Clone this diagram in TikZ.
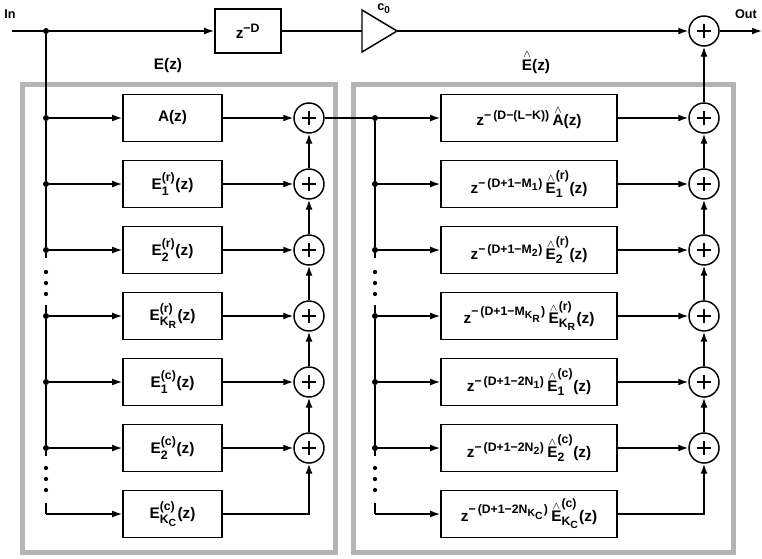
\documentclass[tikz,border=0pt]{standalone}
\usepackage{amsmath}
\usepackage{fontspec}
\setmainfont{Liberation Sans}
\usepackage{xcolor}
\definecolor{frameGray}{HTML}{B4B4B4}
\usetikzlibrary{
    arrows.meta,
    calc
}
\DeclareMathSizes{11.5}{11.5}{9.2}{7.8}
\DeclareMathSizes{9.5}{9.5}{7.5}{6}
\newcommand{\tx}[1]{\text{#1}}
% letter with a thin caret above it
\newcommand{\hatted}[1]{\text{\setbox0\hbox{#1}\rlap{\hbox to\wd0{\hss\raisebox{\dimexpr\ht0+1.2pt\relax}{\fontsize{8.5}{8.5}\selectfont$\wedge$}\hss}}\box0}}
\newcommand{\Ehat}{\hatted{E}}
\tikzset{
    % Base style for block texts
    label base/.style={
        font=\bfseries\fontsize{11.5}{13}\selectfont,
        inner sep=0pt,
    },
    % Filter blocks inside E(z)
    left block/.style={
        label base,
        draw,
        line width=1.3pt,
        minimum width=74.25pt,
        minimum height=35.25pt,
    },
    % Delayed filter blocks inside E-hat(z)
    right block/.style={
        left block,
        minimum width=132pt,
    },
    % Summing junction with a thin cross
    adder/.style={
        circle,
        draw,
        line width=1.1pt,
        minimum size=22.5pt,
        inner sep=0pt,
        path picture={
            \draw [line width=0.8pt]
                ($(path picture bounding box.center)+(-5.6pt,0)$) -- +(11.2pt,0)
                ($(path picture bounding box.center)+(0,-5.6pt)$) -- +(0,11.2pt);
        },
    },
    % Branch point
    dot/.style={
        circle,
        fill,
        inner sep=0pt,
        minimum size=4.5pt,
    },
    % Plain signal line and signal arrow
    line/.style={
        line width=1.1pt,
    },
    arrow/.style={
        line,
        -{Latex[length=7.5pt, width=5.25pt]},
    },
    % Vertical ellipsis on a bus
    ellipsis/.style={
        line width=3.2pt,
        line cap=round,
        dash pattern=on 0pt off 8.25pt,
    },
    % Grey frame round a filter bank
    frame/.style={
        draw=frameGray,
        line width=3.75pt,
    },
    % In / Out labels
    io label/.style={
        font=\bfseries\fontsize{9.5}{11}\selectfont,
        inner sep=0pt,
    },
}

\begin{document}
\begin{tikzpicture}[x=0.75pt, y=-0.75pt, node distance=49.5pt]
    \useasboundingbox (0,0) rectangle (762,558);

    % frames first, so that the signal lines lie on top
    \draw [frame] (22,84) rectangle (335.5,552);
    \draw [frame] (353.5,84) rectangle (733,552);
    \node (elabel) [label base] at (168,66) {E(z)};
    \node (ehlabel) [label base, anchor=base] at (536,70) {$\Ehat$(z)};

    % top path
    \node (inlabel) [io label, anchor=west] at (4,14) {In};
    \coordinate (in) at (12,31);
    \node (jin) [dot] at (46,31) {};
    \node (delay) [label base, draw, line width=1.3pt, minimum width=49.5pt, minimum height=33pt] at (248,31) {$\tx{z}^{\tx{−D}}$};
    % gain triangle
    \coordinate (gainin) at (362,31);
    \coordinate (gainout) at (397,31);
    \draw [line] (362,10) -- (gainout) -- (362,52) -- cycle;
    \node (gainlabel) [io label] at (384,9) {$\tx{c}_{\tx{0}}$};
    \node (sout) [adder] at (704,31) {};
    \node (outlabel) [io label] at (746,14) {Out};
    \coordinate (out) at (762,31);

    % E(z): bus, blocks and adders
    \node (ja) [dot] at (46,118) {};
    \node (j1r) [dot, below of=ja] {};
    \node (j2r) [dot, below of=j1r] {};
    \node (jkr) [dot, below of=j2r] {};
    \node (j1c) [dot, below of=jkr] {};
    \node (j2c) [dot, below of=j1c] {};
    \coordinate (jkc) at (46,514);

    \node (la) [left block] at (172.5,118) {A(z)};
    \node (l1r) [left block, below of=la] {$\tx{E}^{\tx{(r)}}_{\tx{1}}\tx{(z)}$};
    \node (l2r) [left block, below of=l1r] {$\tx{E}^{\tx{(r)}}_{\tx{2}}\tx{(z)}$};
    \node (lkr) [left block, below of=l2r] {$\tx{E}^{\tx{(r)}}_{\tx{K}_{\tx{R}}}\tx{(z)}$};
    \node (l1c) [left block, below of=lkr] {$\tx{E}^{\tx{(c)}}_{\tx{1}}\tx{(z)}$};
    \node (l2c) [left block, below of=l1c] {$\tx{E}^{\tx{(c)}}_{\tx{2}}\tx{(z)}$};
    \node (lkc) [left block, below of=l2c] {$\tx{E}^{\tx{(c)}}_{\tx{K}_{\tx{C}}}\tx{(z)}$};

    \node (sa) [adder] at (309,118) {};
    \node (s1r) [adder, below of=sa] {};
    \node (s2r) [adder, below of=s1r] {};
    \node (skr) [adder, below of=s2r] {};
    \node (s1c) [adder, below of=skr] {};
    \node (s2c) [adder, below of=s1c] {};

    % E-hat(z): bus, blocks and adders
    \node (rja) [dot] at (375,118) {};
    \node (rj1r) [dot, below of=rja] {};
    \node (rj2r) [dot, below of=rj1r] {};
    \node (rjkr) [dot, below of=rj2r] {};
    \node (rj1c) [dot, below of=rjkr] {};
    \node (rj2c) [dot, below of=rj1c] {};
    \coordinate (rjkc) at (375,514);

    \node (ra) [right block] at (529,118) {$\tx{z}^{\tx{−\,(D−(L−K))}}\,\hatted{A}\tx{(z)}$};
    \node (r1r) [right block, below of=ra] {$\tx{z}^{\tx{−\,(D+1−M}_{\tx{1}}\tx{)}}\,\Ehat^{\tx{(r)}}_{\tx{1}}\tx{(z)}$};
    \node (r2r) [right block, below of=r1r] {$\tx{z}^{\tx{−\,(D+1−M}_{\tx{2}}\tx{)}}\,\Ehat^{\tx{(r)}}_{\tx{2}}\tx{(z)}$};
    \node (rkr) [right block, below of=r2r] {$\tx{z}^{\tx{−\,(D+1−M}_{\tx{K}_{\tx{R}}}\tx{)}}\,\Ehat^{\tx{(r)}}_{\tx{K}_{\tx{R}}}\tx{(z)}$};
    \node (r1c) [right block, below of=rkr] {$\tx{z}^{\tx{−\,(D+1−2N}_{\tx{1}}\tx{)}}\,\Ehat^{\tx{(c)}}_{\tx{1}}\tx{(z)}$};
    \node (r2c) [right block, below of=r1c] {$\tx{z}^{\tx{−\,(D+1−2N}_{\tx{2}}\tx{)}}\,\Ehat^{\tx{(c)}}_{\tx{2}}\tx{(z)}$};
    \node (rkc) [right block, below of=r2c] {$\tx{z}^{\tx{−\,(D+1−2N}_{\tx{K}_{\tx{C}}}\tx{)}}\,\Ehat^{\tx{(c)}}_{\tx{K}_{\tx{C}}}\tx{(z)}$};

    \node (ta) [adder] at (704,118) {};
    \node (t1r) [adder, below of=ta] {};
    \node (t2r) [adder, below of=t1r] {};
    \node (tkr) [adder, below of=t2r] {};
    \node (t1c) [adder, below of=tkr] {};
    \node (t2c) [adder, below of=t1c] {};

    % gaps in the buses
    \coordinate (gl1) at (46,258);
    \coordinate (gl2) at (46,305);
    \coordinate (gl3) at (46,456);
    \coordinate (gl4) at (46,503);
    \coordinate (gr1) at (375,258);
    \coordinate (gr2) at (375,305);
    \coordinate (gr3) at (375,456);
    \coordinate (gr4) at (375,503);
    \draw [ellipsis] (46,272) -- (46,295);
    \draw [ellipsis] (46,468) -- (46,491);
    \draw [ellipsis] (375,272) -- (375,295);
    \draw [ellipsis] (375,468) -- (375,491);

    % top path
    \draw [line] (in) -- (jin);
    \draw [arrow] (jin) -- (delay);
    \draw [line] (delay) -- (gainin);
    \draw [arrow] (gainout) -- (sout);
    \draw [arrow] (sout) -- (out);

    % left bus
    \draw [line] (jin) -- (ja) -- (j1r) -- (j2r) -- (gl1);
    \draw [line] (gl2) -- (jkr) -- (j1c) -- (j2c) -- (gl3);
    \draw [line] (gl4) -- (jkc);

    \draw [arrow] (ja) -- (la);
    \draw [arrow] (j1r) -- (l1r);
    \draw [arrow] (j2r) -- (l2r);
    \draw [arrow] (jkr) -- (lkr);
    \draw [arrow] (j1c) -- (l1c);
    \draw [arrow] (j2c) -- (l2c);
    \draw [arrow] (jkc) -- (lkc);

    \draw [arrow] (la) -- (sa);
    \draw [arrow] (l1r) -- (s1r);
    \draw [arrow] (l2r) -- (s2r);
    \draw [arrow] (lkr) -- (skr);
    \draw [arrow] (l1c) -- (s1c);
    \draw [arrow] (l2c) -- (s2c);
    \draw [arrow] (lkc) -| (s2c);

    \draw [arrow] (s1r) -- (sa);
    \draw [arrow] (s2r) -- (s1r);
    \draw [arrow] (skr) -- (s2r);
    \draw [arrow] (s1c) -- (skr);
    \draw [arrow] (s2c) -- (s1c);

    % E(z) output into the E-hat(z) bus
    \draw [line] (sa) -- (rja);

    % right bus
    \draw [line] (rja) -- (rj1r) -- (rj2r) -- (gr1);
    \draw [line] (gr2) -- (rjkr) -- (rj1c) -- (rj2c) -- (gr3);
    \draw [line] (gr4) -- (rjkc);

    \draw [arrow] (rja) -- (ra);
    \draw [arrow] (rj1r) -- (r1r);
    \draw [arrow] (rj2r) -- (r2r);
    \draw [arrow] (rjkr) -- (rkr);
    \draw [arrow] (rj1c) -- (r1c);
    \draw [arrow] (rj2c) -- (r2c);
    \draw [arrow] (rjkc) -- (rkc);

    \draw [arrow] (ra) -- (ta);
    \draw [arrow] (r1r) -- (t1r);
    \draw [arrow] (r2r) -- (t2r);
    \draw [arrow] (rkr) -- (tkr);
    \draw [arrow] (r1c) -- (t1c);
    \draw [arrow] (r2c) -- (t2c);
    \draw [arrow] (rkc) -| (t2c);

    \draw [arrow] (t1r) -- (ta);
    \draw [arrow] (t2r) -- (t1r);
    \draw [arrow] (tkr) -- (t2r);
    \draw [arrow] (t1c) -- (tkr);
    \draw [arrow] (t2c) -- (t1c);

    \draw [arrow] (ta) -- (sout);
\end{tikzpicture}
\end{document}
